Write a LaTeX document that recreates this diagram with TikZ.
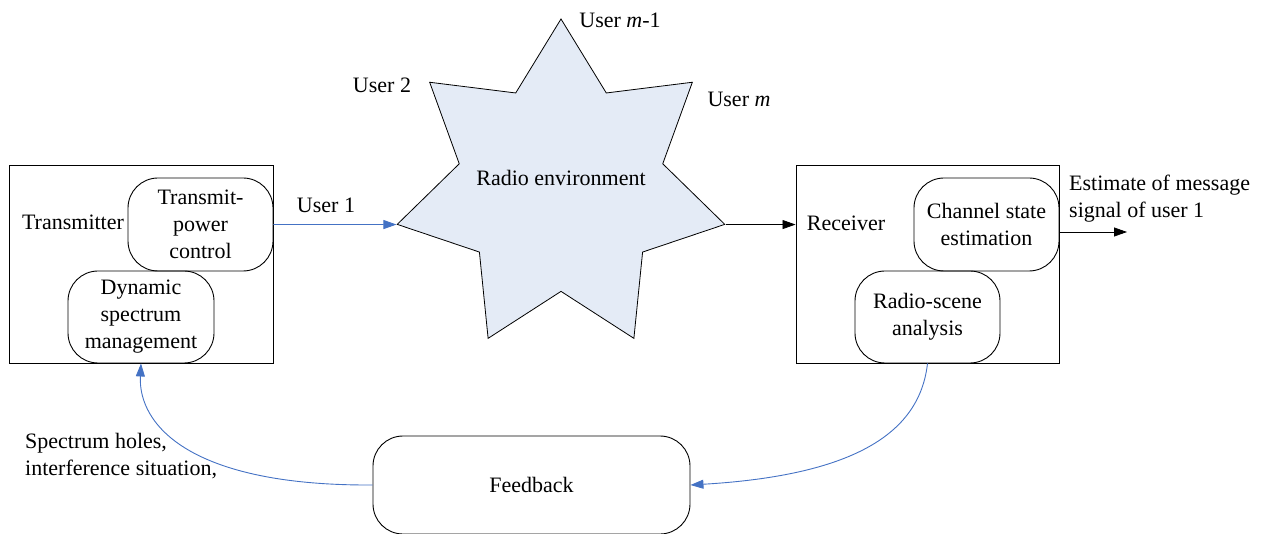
\documentclass[tikz,border=0pt]{standalone}
\usepackage{fontspec}
\setmainfont{Liberation Serif}
\usetikzlibrary{shapes.geometric,arrows.meta}
\definecolor{envfill}{HTML}{E4EBF6}
\definecolor{fbblue}{HTML}{4472C4}
\tikzset{
  x=1pt, y=-1pt,
  every node/.style={font=\fontsize{22}{27}\selectfont, inner sep=0pt},
  outerbox/.style={draw, line width=0.9pt, minimum width=#1},
  subbox/.style={draw, line width=0.9pt, rounded corners=30pt, align=center},
  bluearrow/.style={draw=fbblue, line width=0.9pt, -{Triangle[length=13pt,width=9pt]}},
  blackarrow/.style={draw=black, line width=0.8pt, -{Triangle[length=13pt,width=9pt]}},
}
\begin{document}
\begin{tikzpicture}
\useasboundingbox (0,0) rectangle (1269,534);

% transmitter side
\node[outerbox=264pt, minimum height=198pt] (tx) at (141,264) {};
\node[subbox, minimum width=145pt, minimum height=93pt] (tpc) at (200.5,224.5) {Transmit-\\power\\control};
\node[subbox, minimum width=146pt, minimum height=92pt] (dsm) at (141,317) {Dynamic\\spectrum\\management};
\node (txl) at (73,222) {Transmitter};

% radio environment
\node[star, star points=7, star point ratio=1.61, minimum size=336pt, draw, fill=envfill, line width=0.8pt] (env) at (561,187) {};
\node (envl) at (561,178) {Radio environment};
\node (u2) at (382,85) {User 2};
\node (um1) at (620,20) {User \textit{m}-1};
\node (um) at (739,99) {User \textit{m}};
\node (u1) at (326,205) {User 1};

% receiver side
\node[outerbox=263pt, minimum height=198pt] (rx) at (927.5,264) {};
\node[subbox, minimum width=145pt, minimum height=93pt] (cse) at (986.5,224.5) {Channel state\\estimation};
\node[subbox, minimum width=145pt, minimum height=92pt] (rsa) at (927.5,317) {Radio-scene\\analysis};
\node (rxl) at (846,223) {Receiver};
\node[align=left, anchor=west] (est) at (1069,199) {Estimate of message\\signal of user 1};
\coordinate (out) at (1127,232);

% feedback loop
\node[subbox, minimum width=317pt, minimum height=98pt] (fb) at (531.5,485) {Feedback};
\node[align=left, anchor=west] (fbl) at (25,456) {Spectrum holes,\\interference situation,};

% connectors
\draw[bluearrow] (tpc.east) -- (env.outer point 3);
\draw[blackarrow] (env.outer point 6) -- (rx.west |- env.outer point 6);
\draw[blackarrow] (cse.east |- out) -- (out);
\draw[bluearrow] (rsa.south) .. controls (920,430) and (860,475) .. (fb.east);
\draw[bluearrow] (fb.west) .. controls (190,486) and (138,425) .. (dsm.south);
\end{tikzpicture}
\end{document}
